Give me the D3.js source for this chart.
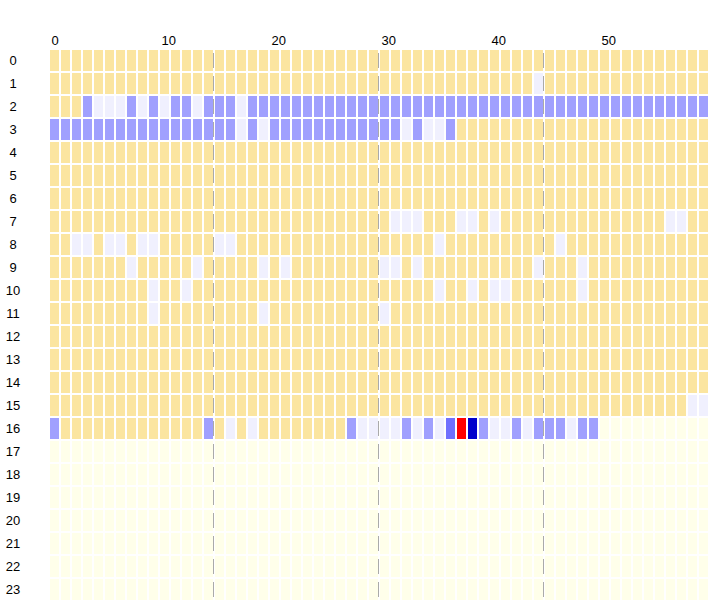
<!DOCTYPE html>
<html>
<head>
<meta charset="utf-8">
<script src="https://cdn.jsdelivr.net/npm/d3@7"></script>
<style>
  body { margin: 0; background: #fff; }
  text { font-family: "Liberation Sans", Arial, sans-serif; font-size: 13px; fill: #000; }
</style>
</head>
<body>
<div id="container"></div>
<script>
/* CONSTANTS AND GLOBALS */
const width = 710,
  height = 602,
  margin = { top: 50, left: 50, right: 0, bottom: 0 };

/* DATA */
// rows are hours, columns are minutes
const hours = d3.range(24);
const minutes = d3.range(60);
const minuteTicks = [0, 10, 20, 30, 40, 50];
const quarterMarks = [15, 30, 45];

// one string per hour, one char per minute
// 0 normal, 1 low, 2 medium, 3 high, 4 very high, 5 peak, "." no data
const hourCodes = [
  "000000000000000000000000000000000000000000000000000000000000",
  "000000000000000000000000000000000000000000001000000000000000",
  "000211121212212221222222222222222222222222222222222222222222",
  "222222222222222221212222222222221211200000000000000000000000",
  "000000000000000000000000000000000000000000000000000000000000",
  "000000000000000000000000000000000000000000000000000000000000",
  "000000000000000000000000000000000000000000000000000000000000",
  "000000000000000000000000000000011100011010000000000000001100",
  "001101101100000110000000000000000001000000000010000000000000",
  "000000010000010000010100000000110100000000001000100000000000",
  "000000000100100000000000000000000001001011000000100000000000",
  "000000000100000000010000000000100000000000000000000000000000",
  "000000000000000000000000000000000000000000000000000000000000",
  "000000000000000000000000000000000000000000000000000000000000",
  "000000000000000000000000000000000000000000000000000000000000",
  "000000000000000000000000000000000000000000000000000000000011",
  "20000000000000201010000000021111212135421121222122..........",
  "............................................................",
  "............................................................",
  "............................................................",
  "............................................................",
  "............................................................",
  "............................................................",
  "............................................................"
];

const levels = ["0", "1", "2", "3", "4", "5", "."];
const levelColors = ["#fbe5a0", "#f0f0fe", "#a0a0fe", "#7070fe", "#0000cc", "#ff0000", "#ffffea"];

const cells = [];
hourCodes.forEach((row, h) => {
  row.split("").forEach((c, m) => cells.push({ hour: h, minute: m, level: c }));
});

/* SCALES */
const xScale = d3.scaleBand()
  .domain(minutes)
  .range([margin.left - 1, margin.left - 1 + minutes.length * 11])
  .paddingInner(2 / 11)
  .paddingOuter(1 / 11);

const yScale = d3.scaleBand()
  .domain(hours)
  .range([margin.top - 1, margin.top - 1 + hours.length * 23])
  .paddingInner(2 / 23)
  .paddingOuter(1 / 23);

const colorScale = d3.scaleOrdinal()
  .domain(levels)
  .range(levelColors);

/* HTML ELEMENTS */
const svg = d3.select("#container")
  .append("svg")
  .attr("width", width)
  .attr("height", height);

// cells
svg.append("g")
  .selectAll("rect")
  .data(cells)
  .join("rect")
  .attr("x", d => xScale(d.minute))
  .attr("y", d => yScale(d.hour))
  .attr("width", xScale.bandwidth())
  .attr("height", yScale.bandwidth())
  .attr("fill", d => colorScale(d.level));

// quarter hour dashed lines, sitting in the gap before the column
const gap = xScale.step() - xScale.bandwidth();
svg.append("g")
  .selectAll("line")
  .data(quarterMarks)
  .join("line")
  .attr("x1", d => xScale(d) - gap / 2 - 0.5)
  .attr("x2", d => xScale(d) - gap / 2 - 0.5)
  .attr("y1", yScale(0) + 3)
  .attr("y2", height)
  .attr("stroke", "#aaaaaa")
  .attr("stroke-width", 1)
  .attr("stroke-dasharray", "15,8");

// minute labels on top
svg.append("g")
  .selectAll("text")
  .data(minuteTicks)
  .join("text")
  .attr("x", d => xScale(d) + 1.5)
  .attr("y", margin.top - 5)
  .attr("text-anchor", "start")
  .text(d => d);

// hour labels on the left
svg.append("g")
  .selectAll("text")
  .data(hours)
  .join("text")
  .attr("x", 13)
  .attr("y", d => yScale(d) + yScale.bandwidth() / 2 + 4.5)
  .attr("text-anchor", "middle")
  .text(d => d);
</script>
</body>
</html>
